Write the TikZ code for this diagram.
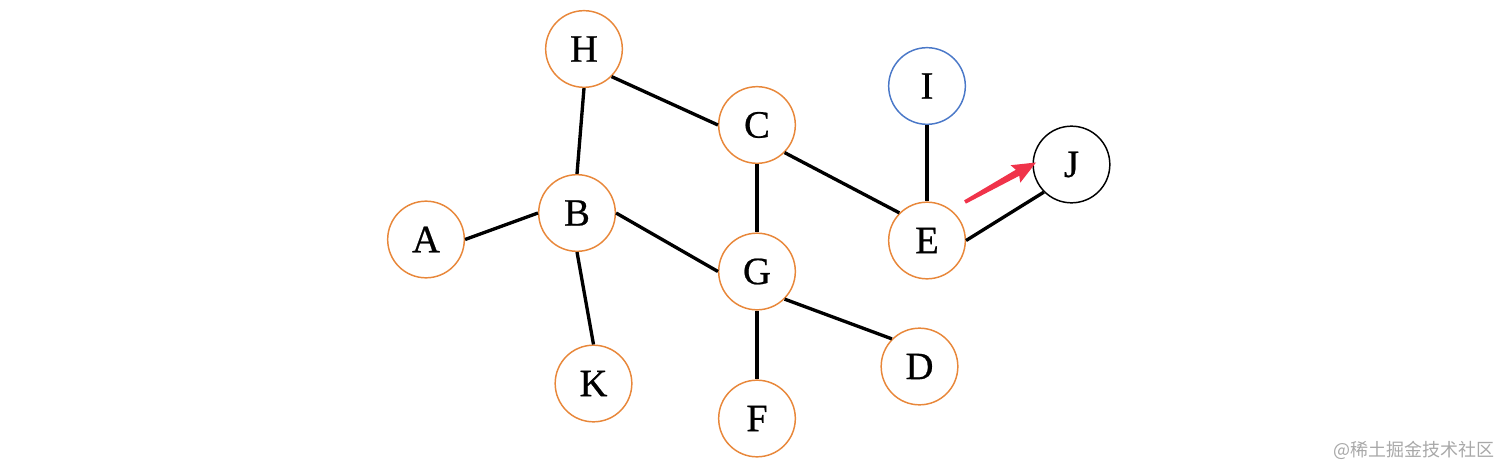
\documentclass[tikz,border=0pt]{standalone}
\usepackage{fontspec}
\usetikzlibrary{calc}
\setmainfont{Liberation Serif}
\newfontfamily\vfont[FakeBold=0.6]{Liberation Serif}
\newfontfamily\cjk{Noto Sans CJK SC}
\definecolor{nodeorange}{HTML}{E8873A}
\definecolor{nodeblue}{HTML}{4A78C8}
\definecolor{arrowred}{HTML}{F0334A}
\definecolor{wmgray}{HTML}{A8A8A8}
\begin{document}
\begin{tikzpicture}[x=0.75pt,y=-0.75pt,
  vtx/.style={circle,draw=nodeorange,line width=1.1pt,minimum size=57.5pt,inner sep=0pt,fill=white,font=\vfont\fontsize{29}{32}\selectfont},
  vtxblue/.style={vtx,draw=nodeblue},
  vtxblack/.style={vtx,draw=black},
  edge/.style={line width=2.5pt,black}]
\useasboundingbox (0,0) rectangle (1512,474);
\node[vtx] (H) at (584,49) {H};
\node[vtx] (C) at (757,125) {C};
\node[vtxblue] (I) at (927,86) {I};
\node[vtxblack] (J) at (1071.5,164.5) {J};
\node[vtx] (B) at (577,213) {B};
\node[vtx] (A) at (426,239.5) {A};
\node[vtx] (E) at (927,240.5) {E};
\node[vtx] (G) at (757,271.5) {G};
\node[vtx] (K) at (593.5,383.5) {K};
\node[vtx] (D) at (919.5,366.5) {D};
\node[vtx] (F) at (757,418.5) {F};
\draw[edge] (H.south) -- (B.north);
\draw[edge] (H.south east) -- (C.west);
\draw[edge] (A.east) -- (B.west);
\draw[edge] (B.east) -- (G.west);
\draw[edge] (B.south) -- (K.north);
\draw[edge] (C.south) -- (G.north);
\draw[edge] (C.south east) -- (E.north west);
\draw[edge] (I.south) -- (E.north);
\draw[edge] (E.east) -- (J.south west);
\draw[edge] (G.south) -- (F.north);
\draw[edge] (G.south east) -- (D.north west);
\coordinate (ra) at (965,202);
\coordinate (rb) at (1036,162.5);
\coordinate (rm1) at ($(ra)!0.74!(rb)$);
\coordinate (rm2) at ($(ra)!0.71!(rb)$);
\fill[arrowred] ($(ra)!1.4pt!90:(rb)$) -- ($(rm1)!2.6pt!90:(rb)$) -- ($(rm2)!7.5pt!90:(rb)$) -- (rb) -- ($(rm2)!7.5pt!-90:(rb)$) -- ($(rm1)!2.6pt!-90:(rb)$) -- ($(ra)!1.4pt!-90:(rb)$) -- cycle;
\node[font=\cjk\fontsize{13.5}{15}\selectfont,text=wmgray,anchor=east,inner sep=0pt] (wm) at (1495,450) {@稀土掘金技术社区};
\end{tikzpicture}
\end{document}
